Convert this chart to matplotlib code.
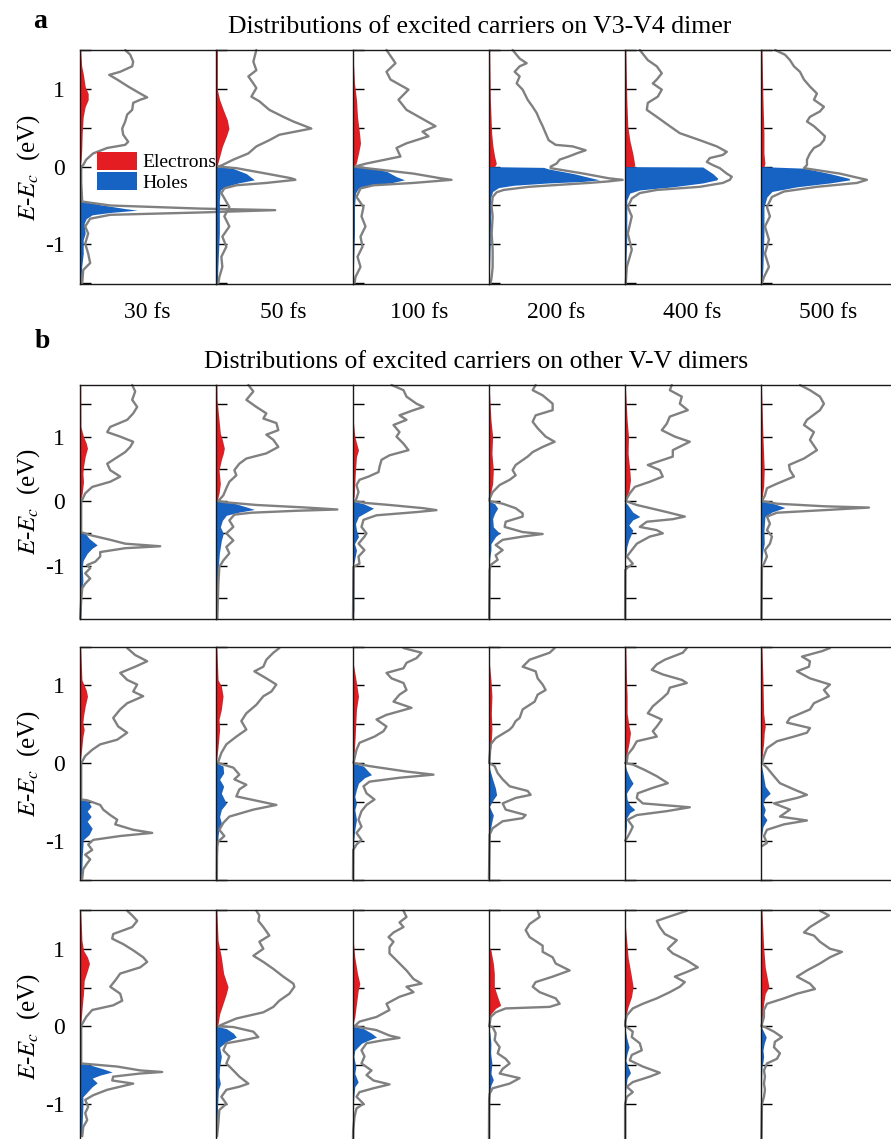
import matplotlib.pyplot as plt
from matplotlib.patches import Patch

plt.rcParams['font.family'] = ['Liberation Serif', 'DejaVu Serif']
plt.rcParams['mathtext.fontset'] = 'stix'

RED = '#e41d22'
BLUE = '#1763c4'
GRAY = '#808080'

times = ["30 fs", "50 fs", "100 fs", "200 fs", "400 fs", "500 fs"]
title_a = "Distributions of excited carriers on V3-V4 dimer"
title_b = "Distributions of excited carriers on other V-V dimers"

# ---------------------------------------------------------------------------
# (energy eV, density); dos = gray curve,
# el = electrons (red fill), ho = holes (blue fill)
# ---------------------------------------------------------------------------

# panel a : V3-V4 dimer
dos_a_30 = [(1.50, 45), (1.44, 50), (1.35, 53), (1.29, 52), (1.22, 40), (1.18, 29), (1.12, 37), (1.03, 48),
            (0.94, 60), (0.89, 67), (0.86, 60), (0.82, 53), (0.73, 52), (0.67, 47), (0.58, 45), (0.49, 42),
            (0.41, 43), (0.32, 48), (0.28, 45), (0.24, 27), (0.17, 13), (0.09, 6), (0.02, 3), (0.0, 1),
            (-0.2, 1), (-0.45, 2), (-0.50, 30), (-0.54, 120), (-0.56, 195), (-0.59, 120), (-0.62, 30),
            (-0.67, 10), (-0.77, 5), (-0.86, 8), (-0.99, 5), (-1.12, 8), (-1.24, 10), (-1.33, 3), (-1.50, 2)]
el_a_30 = [(1.50, 0.5), (1.38, 1), (1.29, 1.5), (1.20, 3), (1.03, 5), (0.94, 8), (0.86, 8), (0.77, 5),
           (0.64, 3), (0.43, 2), (0.21, 1.5), (0.09, 1), (0.0, 0)]
ho_a_30 = [(0.0, 0), (-0.43, 0), (-0.45, 6), (-0.49, 20), (-0.54, 45), (-0.56, 57), (-0.59, 30), (-0.62, 12),
           (-0.67, 6), (-0.73, 4), (-0.86, 5), (-0.94, 3), (-1.12, 3), (-1.29, 1.5), (-1.5, 0.5)]

dos_a_50 = [(1.50, 40), (1.35, 37), (1.24, 40), (1.16, 32), (1.07, 37), (1.01, 40), (0.90, 35), (0.84, 43),
            (0.73, 53), (0.64, 67), (0.58, 77), (0.49, 95), (0.41, 63), (0.34, 53), (0.26, 40), (0.17, 32),
            (0.09, 17), (0.02, 6), (0.0, 2), (-0.02, 20), (-0.09, 50), (-0.15, 75), (-0.17, 79), (-0.21, 50),
            (-0.24, 20), (-0.28, 8), (-0.34, 5), (-0.52, 13), (-0.64, 8), (-0.77, 13), (-0.90, 6), (-1.03, 10),
            (-1.16, 5), (-1.29, 6), (-1.42, 3), (-1.50, 2)]
el_a_50 = [(1.50, 1), (1.18, 1), (0.99, 1), (0.86, 3.3), (0.73, 7), (0.60, 11), (0.49, 12.6), (0.39, 10),
           (0.26, 6), (0.13, 3.3), (0.0, 0.5)]
ho_a_50 = [(0.0, 0), (-0.02, 16), (-0.09, 30), (-0.17, 38), (-0.21, 22), (-0.26, 9), (-0.30, 4), (-0.43, 3),
           (-0.86, 3), (-1.29, 1.5), (-1.5, 1)]

dos_a_100 = [(1.50, 34), (1.33, 43), (1.22, 34), (1.12, 38), (0.99, 56), (0.86, 46), (0.73, 54), (0.52, 83),
             (0.45, 70), (0.39, 76), (0.30, 54), (0.24, 44), (0.13, 48), (0.04, 14), (0.0, 2), (-0.02, 14),
             (-0.09, 61), (-0.15, 88), (-0.17, 99), (-0.21, 61), (-0.24, 21), (-0.28, 8), (-0.39, 4),
             (-0.52, 11), (-0.64, 9), (-0.77, 13), (-0.90, 8), (-1.03, 10), (-1.16, 5), (-1.29, 8),
             (-1.42, 3), (-1.50, 2)]
el_a_100 = [(1.50, 0.3), (1.07, 2), (0.86, 4), (0.64, 5), (0.43, 7), (0.30, 8), (0.17, 6), (0.04, 3.7), (0.0, 1)]
ho_a_100 = [(0.0, 0), (-0.02, 18), (-0.06, 34), (-0.13, 44), (-0.17, 52), (-0.21, 38), (-0.24, 18), (-0.28, 6),
            (-0.34, 3), (-0.52, 2), (-0.86, 2), (-1.29, 1), (-1.5, 0.5)]

dos_a_200 = [(1.50, 24), (1.39, 31), (1.33, 38), (1.29, 31), (1.22, 26), (1.16, 31), (1.07, 28), (0.99, 34),
             (0.86, 39), (0.77, 44), (0.69, 48), (0.60, 51), (0.52, 54), (0.43, 57), (0.34, 60), (0.28, 67),
             (0.26, 84), (0.21, 97), (0.17, 88), (0.13, 80), (0.09, 71), (0.04, 68), (0.0, 62), (-0.02, 62),
             (-0.09, 95), (-0.15, 120), (-0.17, 134), (-0.19, 120), (-0.21, 100), (-0.26, 40), (-0.30, 15),
             (-0.33, 8), (-0.39, 4), (-0.52, 3), (-0.64, 4), (-0.86, 3), (-1.07, 4), (-1.29, 4), (-1.42, 3),
             (-1.50, 2)]
el_a_200 = [(1.50, 1), (0.86, 1.7), (0.43, 3), (0.26, 4.3), (0.13, 6), (0.04, 7.7), (0.0, 6)]
ho_a_200 = [(0.0, 0), (-0.01, 55), (-0.03, 60), (-0.09, 85), (-0.15, 104), (-0.17, 111), (-0.19, 95),
            (-0.21, 60), (-0.24, 25), (-0.27, 10), (-0.32, 4), (-0.4, 2), (-0.6, 2), (-1.0, 1.5), (-1.5, 0.5)]

dos_a_400 = [(1.50, 15), (1.37, 23), (1.29, 32), (1.20, 37), (1.12, 32), (1.07, 28), (0.99, 37), (0.90, 33),
             (0.82, 23), (0.73, 22), (0.64, 32), (0.52, 45), (0.43, 55), (0.34, 75), (0.26, 92), (0.19, 102),
             (0.15, 98), (0.11, 85), (0.06, 82), (0.02, 88), (-0.02, 95), (-0.09, 102), (-0.13, 107),
             (-0.17, 105), (-0.21, 98), (-0.26, 75), (-0.30, 32), (-0.34, 15), (-0.41, 7), (-0.52, 3),
             (-0.64, 7), (-0.86, 3), (-1.07, 7), (-1.29, 2), (-1.50, 1)]
el_a_400 = [(1.50, 1), (0.86, 2), (0.52, 3), (0.34, 5), (0.17, 8), (0.02, 10), (0.0, 9)]
ho_a_400 = [(0.0, 0), (-0.005, 78), (-0.09, 88), (-0.15, 93), (-0.17, 92), (-0.21, 78), (-0.26, 48),
            (-0.30, 15), (-0.34, 5), (-0.43, 2), (-0.9, 2), (-1.5, 0.5)]

dos_a_500 = [(1.50, 14), (1.44, 24), (1.37, 29), (1.29, 33), (1.22, 39), (1.12, 43), (1.03, 49), (0.94, 56),
             (0.86, 53), (0.77, 63), (0.71, 59), (0.64, 49), (0.58, 46), (0.52, 53), (0.45, 59), (0.39, 64),
             (0.34, 63), (0.28, 59), (0.24, 53), (0.17, 49), (0.09, 46), (0.02, 46), (-0.02, 43),
             (-0.09, 79), (-0.15, 99), (-0.17, 106), (-0.21, 96), (-0.26, 56), (-0.32, 23), (-0.39, 11),
             (-0.52, 6), (-0.64, 9), (-0.77, 4), (-0.94, 8), (-1.12, 4), (-1.29, 8), (-1.42, 3), (-1.50, 1)]
el_a_500 = [(1.50, 1), (0.86, 2), (0.43, 3), (0.17, 3), (0.04, 4), (0.0, 3)]
ho_a_500 = [(0.0, 0), (-0.02, 43), (-0.09, 69), (-0.15, 88), (-0.17, 89), (-0.21, 69), (-0.26, 36),
            (-0.32, 11), (-0.39, 6), (-0.52, 3), (-0.86, 3), (-1.29, 2), (-1.50, 1)]

# panel b, first row
dos_b1_30 = [(1.80, 52), (1.70, 55), (1.57, 52), (1.46, 57), (1.36, 53), (1.26, 47), (1.15, 30), (1.07, 27),
             (1.00, 40), (0.92, 53), (0.84, 50), (0.76, 45), (0.69, 38), (0.58, 27), (0.48, 30), (0.38, 40),
             (0.30, 30), (0.22, 12), (0.12, 5), (0.02, 2), (0.0, 1), (-0.48, 1), (-0.52, 8), (-0.60, 30),
             (-0.66, 45), (-0.70, 80), (-0.73, 45), (-0.79, 20), (-0.86, 20), (-0.94, 15), (-0.99, 7),
             (-1.04, 10), (-1.12, 5), (-1.20, 10), (-1.28, 5), (-1.35, 2), (-1.53, 1), (-1.82, 0)]
el_b1_30 = [(1.80, 0.5), (1.15, 0.7), (1.00, 3.3), (0.90, 6), (0.82, 7.3), (0.69, 5), (0.53, 3.3), (0.43, 2.7),
            (0.30, 3.3), (0.12, 2), (0.0, 0)]
ho_b1_30 = [(0.0, 0), (-0.48, 0), (-0.50, 5), (-0.58, 9), (-0.68, 17), (-0.73, 12), (-0.81, 7), (-0.92, 3),
            (-1.02, 2), (-1.23, 2.7), (-1.33, 2), (-1.54, 1), (-1.82, 0.5)]

dos_b1_50 = [(1.80, 32), (1.70, 37), (1.57, 30), (1.46, 40), (1.36, 50), (1.28, 47), (1.21, 60), (1.10, 62),
             (1.03, 50), (0.95, 57), (0.84, 62), (0.74, 50), (0.66, 30), (0.58, 23), (0.48, 18), (0.40, 20),
             (0.30, 13), (0.20, 10), (0.09, 7), (0.02, 3), (0.0, 2), (-0.02, 10), (-0.06, 40), (-0.10, 90),
             (-0.13, 121), (-0.15, 80), (-0.18, 35), (-0.21, 18), (-0.30, 13), (-0.40, 17), (-0.50, 10),
             (-0.61, 17), (-0.71, 10), (-0.81, 13), (-0.92, 7), (-1.02, 3), (-1.28, 2), (-1.82, 1)]
el_b1_50 = [(1.80, 0.5), (1.57, 0.7), (1.05, 4), (0.95, 6), (0.82, 8), (0.74, 7), (0.64, 5), (0.48, 2.7),
            (0.27, 4), (0.12, 2.7), (0.0, 0.7)]
ho_b1_50 = [(0.0, 0), (-0.03, 17), (-0.09, 30), (-0.13, 38), (-0.17, 23), (-0.22, 10), (-0.30, 6), (-0.40, 4),
            (-0.50, 7), (-0.61, 5), (-0.81, 3), (-1.02, 2), (-1.54, 1), (-1.82, 0.5)]

dos_b1_100 = [(1.80, 39), (1.72, 51), (1.62, 54), (1.51, 64), (1.46, 71), (1.41, 61), (1.33, 47), (1.26, 54),
              (1.18, 41), (1.07, 47), (1.00, 44), (0.89, 51), (0.79, 56), (0.71, 37), (0.64, 29), (0.53, 27),
              (0.45, 26), (0.38, 16), (0.33, 7), (0.25, 4), (0.14, 6), (0.04, 4), (0.0, 2), (-0.03, 14),
              (-0.06, 37), (-0.11, 71), (-0.14, 84), (-0.17, 64), (-0.22, 24), (-0.29, 11), (-0.40, 9),
              (-0.50, 14), (-0.55, 12), (-0.66, 6), (-0.76, 12), (-0.86, 6), (-0.97, 7), (-1.02, 1),
              (-1.82, 0.5)]
el_b1_100 = [(1.80, 0.3), (1.26, 0.7), (1.00, 2.3), (0.79, 6), (0.69, 4), (0.48, 3), (0.27, 2.3), (0.07, 1.7),
             (0.0, 0)]
ho_b1_100 = [(0.0, 0), (-0.04, 11), (-0.11, 21), (-0.17, 14), (-0.24, 6), (-0.35, 3), (-0.45, 4), (-0.55, 6),
             (-0.66, 2), (-0.76, 4), (-0.97, 1.3), (-1.69, 1.3), (-1.82, 0.7)]

dos_b1_200 = [(1.80, 47), (1.72, 44), (1.64, 54), (1.51, 64), (1.41, 64), (1.33, 47), (1.23, 44), (1.13, 49),
              (1.00, 57), (0.92, 66), (0.84, 54), (0.76, 44), (0.69, 39), (0.56, 27), (0.48, 24), (0.40, 27),
              (0.33, 21), (0.25, 11), (0.14, 4), (0.04, 1), (0.0, 1), (-0.04, 14), (-0.11, 27), (-0.19, 34),
              (-0.24, 34), (-0.32, 17), (-0.40, 16), (-0.48, 34), (-0.51, 54), (-0.55, 34), (-0.60, 14),
              (-0.68, 7), (-0.76, 14), (-0.84, 7), (-0.91, 9), (-0.99, 2), (-1.07, 1), (-1.82, 0.5)]
el_b1_200 = [(1.80, 0.5), (1.72, 0.7), (1.26, 2.3), (1.00, 4), (0.74, 3.3), (0.48, 4.7), (0.27, 4), (0.07, 1.3),
             (0.0, 0)]
ho_b1_200 = [(0.0, 0), (-0.04, 6), (-0.11, 9), (-0.19, 6), (-0.27, 4), (-0.40, 4.7), (-0.50, 11), (-0.55, 7),
             (-0.66, 2.3), (-0.76, 2.3), (-0.86, 1.3), (-0.97, 0.7), (-1.82, 0.3)]

dos_b1_400 = [(1.80, 47), (1.72, 45), (1.62, 57), (1.51, 55), (1.41, 63), (1.31, 45), (1.20, 42), (1.10, 37),
              (1.00, 50), (0.92, 65), (0.79, 48), (0.69, 48), (0.56, 23), (0.48, 35), (0.38, 38), (0.30, 25),
              (0.22, 10), (0.12, 5), (0.04, 2), (0.0, 1), (-0.06, 12), (-0.17, 42), (-0.24, 60), (-0.28, 48),
              (-0.32, 22), (-0.40, 15), (-0.45, 32), (-0.50, 38), (-0.55, 25), (-0.66, 12), (-0.76, 7),
              (-0.86, 2), (-0.97, 8), (-1.04, 2), (-1.07, 0.5), (-1.82, 0.3)]
el_b1_400 = [(1.80, 0.5), (1.26, 2.3), (1.00, 3.7), (0.74, 3.3), (0.48, 5), (0.33, 5.7), (0.17, 4.3),
             (0.04, 1.7), (0.0, 0)]
ho_b1_400 = [(0.0, 0), (-0.06, 3), (-0.17, 8), (-0.24, 15), (-0.29, 8), (-0.37, 4), (-0.45, 8), (-0.53, 6),
             (-0.60, 4), (-0.71, 2), (-0.86, 1), (-0.97, 0.3), (-1.82, 0.2)]

dos_b1_500 = [(1.80, 39), (1.72, 49), (1.62, 59), (1.51, 63), (1.41, 59), (1.26, 46), (1.18, 43), (1.07, 53),
              (0.95, 49), (0.79, 56), (0.66, 43), (0.56, 28), (0.48, 29), (0.38, 33), (0.27, 16), (0.20, 6),
              (0.09, 4), (0.0, 1), (-0.04, 16), (-0.08, 63), (-0.10, 108), (-0.14, 63), (-0.18, 16),
              (-0.24, 6), (-0.35, 9), (-0.45, 6), (-0.55, 11), (-0.66, 9), (-0.76, 4), (-0.86, 6), (-0.97, 3),
              (-1.02, 1), (-1.82, 0.5)]
el_b1_500 = [(1.80, 0.5), (1.00, 2), (0.48, 3.3), (0.22, 2.7), (0.07, 1.3), (0.0, 0)]
ho_b1_500 = [(0.0, 0), (-0.04, 13), (-0.10, 24), (-0.17, 11), (-0.24, 4), (-0.45, 3), (-0.66, 3.3), (-0.76, 2),
             (-0.97, 0.7), (-1.82, 0.3)]

# panel b, second row
dos_b2_30 = [(1.48, 47), (1.39, 55), (1.31, 67), (1.24, 55), (1.16, 40), (1.07, 47), (1.01, 57), (0.92, 53),
             (0.86, 63), (0.77, 47), (0.69, 40), (0.58, 33), (0.47, 38), (0.39, 47), (0.30, 37), (0.24, 20),
             (0.17, 12), (0.09, 5), (0.02, 2), (0.0, 1), (-0.47, 1), (-0.48, 7), (-0.54, 20), (-0.60, 23),
             (-0.67, 30), (-0.73, 37), (-0.79, 35), (-0.86, 53), (-0.90, 72), (-0.94, 40), (-0.99, 13),
             (-1.05, 8), (-1.12, 12), (-1.18, 5), (-1.24, 10), (-1.31, 6), (-1.37, 3), (-1.49, 2)]
el_b2_30 = [(1.48, 0.5), (1.07, 1.7), (0.94, 6), (0.86, 7.3), (0.73, 5), (0.60, 3.3), (0.52, 2.7), (0.43, 4),
            (0.34, 2.7), (0.21, 1.7), (0.0, 0)]
ho_b2_30 = [(0.0, 0), (-0.47, 0), (-0.49, 8), (-0.56, 11), (-0.62, 7), (-0.69, 11), (-0.75, 7), (-0.84, 12),
            (-0.92, 9), (-0.99, 3), (-1.07, 2.7), (-1.20, 2), (-1.37, 1.7), (-1.49, 0.7)]

dos_b2_50 = [(1.48, 63), (1.42, 57), (1.33, 50), (1.24, 47), (1.18, 38), (1.09, 50), (1.01, 60), (0.92, 55),
             (0.86, 47), (0.75, 40), (0.64, 30), (0.54, 25), (0.43, 30), (0.34, 20), (0.24, 10), (0.13, 5),
             (0.02, 2), (0.0, 2), (-0.06, 17), (-0.15, 23), (-0.21, 18), (-0.28, 30), (-0.34, 23), (-0.43, 20),
             (-0.54, 60), (-0.60, 37), (-0.69, 13), (-0.77, 7), (-0.86, 3), (-0.94, 8), (-1.01, 2),
             (-1.07, 0.7), (-1.49, 0.5)]
el_b2_50 = [(1.48, 0.5), (1.07, 1.7), (0.99, 5), (0.86, 6.7), (0.69, 5), (0.56, 2.7), (0.43, 3.3), (0.21, 1.7),
            (0.0, 0)]
ho_b2_50 = [(0.0, 0), (-0.04, 6.7), (-0.13, 7.3), (-0.21, 3.3), (-0.30, 7.3), (-0.39, 5), (-0.52, 10),
            (-0.60, 5), (-0.69, 3.3), (-0.77, 5), (-0.86, 2.7), (-0.94, 1.7), (-1.49, 0.5)]

dos_b2_100 = [(1.48, 51), (1.42, 69), (1.35, 64), (1.29, 54), (1.22, 51), (1.16, 34), (1.09, 39), (1.03, 51),
              (0.94, 54), (0.88, 47), (0.79, 41), (0.71, 59), (0.62, 34), (0.56, 24), (0.47, 34), (0.41, 31),
              (0.34, 22), (0.26, 7), (0.17, 4), (0.06, 2), (0.0, 1), (-0.04, 17), (-0.11, 54), (-0.15, 81),
              (-0.19, 47), (-0.24, 17), (-0.30, 11), (-0.39, 14), (-0.47, 22), (-0.54, 14), (-0.62, 9),
              (-0.73, 6), (-0.82, 9), (-0.90, 4), (-0.99, 9), (-1.05, 4), (-1.12, 0.7), (-1.49, 0.5)]
el_b2_100 = [(1.48, 0.5), (1.29, 0.7), (1.03, 4), (0.86, 6), (0.69, 4), (0.52, 3.3), (0.34, 2.7), (0.13, 1.7),
             (0.0, 0)]
ho_b2_100 = [(0.0, 0), (-0.04, 11), (-0.11, 16), (-0.15, 19), (-0.19, 12), (-0.26, 6), (-0.34, 4),
             (-0.43, 2.3), (-0.52, 4), (-0.60, 2.3), (-0.73, 4), (-0.86, 2.3), (-0.99, 1.3), (-1.49, 0.5)]

dos_b2_200 = [(1.48, 66), (1.42, 61), (1.33, 41), (1.24, 34), (1.18, 47), (1.09, 49), (1.01, 54), (0.94, 57),
              (0.88, 49), (0.79, 46), (0.69, 34), (0.58, 31), (0.54, 27), (0.47, 24), (0.43, 21), (0.32, 7),
              (0.24, 2), (0.09, 1), (0.0, 0.5), (-0.04, 6), (-0.13, 9), (-0.21, 14), (-0.30, 21), (-0.36, 39),
              (-0.41, 42), (-0.45, 27), (-0.52, 14), (-0.60, 17), (-0.67, 37), (-0.71, 34), (-0.75, 14),
              (-0.84, 4), (-0.92, 1), (-1.49, 0.3)]
el_b2_200 = [(1.48, 0.3), (1.29, 0.7), (1.07, 2.3), (0.86, 3.3), (0.64, 2.7), (0.43, 3.3), (0.21, 2.3),
             (0.0, 0)]
ho_b2_200 = [(0.0, 0), (-0.09, 1.3), (-0.21, 4), (-0.32, 6.7), (-0.41, 8), (-0.47, 4.7), (-0.56, 0.7),
             (-0.67, 4.7), (-0.75, 3.3), (-0.86, 1.7), (-0.99, 0.7), (-1.49, 0.3)]

dos_b2_400 = [(1.48, 62), (1.42, 58), (1.33, 40), (1.27, 32), (1.20, 27), (1.14, 38), (1.07, 57), (1.03, 62),
              (0.97, 45), (0.90, 43), (0.84, 38), (0.73, 28), (0.64, 23), (0.56, 37), (0.47, 32), (0.41, 28),
              (0.34, 32), (0.28, 12), (0.19, 8), (0.11, 3), (0.02, 2), (0.0, 0.3), (-0.02, 8), (-0.09, 20),
              (-0.17, 32), (-0.26, 43), (-0.32, 28), (-0.39, 13), (-0.45, 12), (-0.52, 18), (-0.57, 65),
              (-0.62, 42), (-0.67, 12), (-0.73, 3), (-0.82, 8), (-0.90, 5), (-0.97, 2), (-1.00, 0.3)]
el_b2_400 = [(1.48, 1), (1.07, 1.7), (0.86, 2.3), (0.64, 2.3), (0.47, 4.3), (0.39, 5.7), (0.26, 4.3),
             (0.13, 2.3), (0.0, 0.7)]
ho_b2_400 = [(0.0, 0), (-0.09, 1.7), (-0.19, 5), (-0.26, 8.3), (-0.32, 5), (-0.39, 1.7), (-0.47, 2.3),
             (-0.54, 5), (-0.60, 10), (-0.64, 5), (-0.71, 1.7), (-0.82, 1.7), (-0.90, 1), (-1.00, 0.3)]

dos_b2_500 = [(1.48, 69), (1.44, 61), (1.37, 41), (1.31, 49), (1.24, 48), (1.18, 36), (1.09, 49), (1.01, 69),
              (0.94, 63), (0.86, 68), (0.77, 53), (0.69, 49), (0.58, 29), (0.52, 26), (0.45, 49), (0.39, 46),
              (0.34, 33), (0.28, 16), (0.19, 6), (0.09, 3), (0.0, 1), (-0.06, 6), (-0.17, 13), (-0.26, 19),
              (-0.34, 33), (-0.41, 46), (-0.45, 36), (-0.52, 13), (-0.60, 29), (-0.69, 19), (-0.74, 46),
              (-0.79, 23), (-0.86, 6), (-0.94, 3), (-1.03, 6), (-1.07, 1)]
el_b2_500 = [(1.48, 1), (1.07, 2), (0.64, 2.7), (0.47, 4.3), (0.39, 3.3), (0.26, 2.7), (0.09, 1.3), (0.0, 0)]
ho_b2_500 = [(0.0, 0), (-0.13, 2), (-0.30, 4.3), (-0.39, 9.3), (-0.45, 4.3), (-0.52, 2), (-0.60, 4.3),
             (-0.67, 2.7), (-0.73, 6), (-0.82, 2), (-0.94, 0.7), (-1.10, 0.3)]

# panel b, third row
dos_b3_30 = [(1.49, 47), (1.43, 52), (1.36, 57), (1.28, 52), (1.19, 33), (1.13, 32), (1.06, 43), (0.98, 53),
             (0.89, 63), (0.83, 67), (0.76, 60), (0.68, 40), (0.59, 35), (0.51, 30), (0.42, 40), (0.33, 42),
             (0.27, 33), (0.21, 12), (0.12, 6), (0.03, 2), (0.0, 1), (-0.48, 1), (-0.49, 10), (-0.52, 37),
             (-0.57, 60), (-0.59, 82), (-0.61, 60), (-0.65, 33), (-0.70, 32), (-0.74, 53), (-0.78, 40),
             (-0.82, 27), (-0.89, 13), (-0.95, 5), (-1.04, 8), (-1.12, 5), (-1.21, 7), (-1.30, 3), (-1.42, 2)]
el_b3_30 = [(1.49, 0.5), (1.11, 1.7), (0.98, 3.3), (0.89, 7.3), (0.81, 9.3), (0.72, 7.3), (0.59, 4),
            (0.42, 3.3), (0.25, 2), (0.08, 1), (0.0, 0)]
ho_b3_30 = [(0.0, 0), (-0.48, 0), (-0.50, 10), (-0.55, 23), (-0.59, 32), (-0.63, 20), (-0.67, 12), (-0.73, 17),
            (-0.78, 12), (-0.85, 7), (-0.91, 2.7), (-1.04, 2.7), (-1.25, 2), (-1.42, 1.3)]

dos_b3_50 = [(1.49, 40), (1.43, 43), (1.36, 42), (1.28, 47), (1.17, 53), (1.09, 43), (1.00, 47), (0.91, 37),
             (0.83, 47), (0.74, 57), (0.64, 67), (0.55, 77), (0.51, 78), (0.42, 73), (0.33, 63), (0.25, 57),
             (0.18, 47), (0.10, 20), (0.03, 7), (0.0, 2), (-0.01, 17), (-0.07, 37), (-0.14, 42), (-0.18, 27),
             (-0.22, 10), (-0.31, 7), (-0.39, 13), (-0.48, 10), (-0.57, 17), (-0.65, 23), (-0.74, 32),
             (-0.78, 23), (-0.82, 10), (-0.91, 5), (-1.00, 10), (-1.08, 3), (-1.25, 2), (-1.42, 0.7)]
el_b3_50 = [(1.49, 0.5), (1.11, 1.7), (0.89, 5), (0.68, 7.3), (0.51, 11.7), (0.42, 10), (0.29, 6.7),
            (0.16, 3.3), (0.03, 1.7), (0.0, 0)]
ho_b3_50 = [(0.0, 0), (-0.03, 10), (-0.09, 17), (-0.14, 20), (-0.20, 10), (-0.27, 3.3), (-0.39, 5),
            (-0.52, 3.3), (-0.65, 2.7), (-0.74, 4), (-0.82, 2), (-1.00, 1.3), (-1.25, 0.7), (-1.42, 0.5)]

dos_b3_100 = [(1.49, 51), (1.41, 54), (1.34, 47), (1.28, 51), (1.21, 41), (1.15, 36), (1.09, 41), (1.02, 37),
              (0.94, 37), (0.85, 44), (0.72, 54), (0.61, 61), (0.55, 69), (0.51, 54), (0.44, 61), (0.38, 47),
              (0.29, 34), (0.21, 37), (0.12, 24), (0.06, 7), (0.0, 2), (-0.05, 24), (-0.12, 37), (-0.15, 47),
              (-0.18, 31), (-0.22, 14), (-0.31, 9), (-0.39, 12), (-0.48, 9), (-0.57, 19), (-0.63, 14),
              (-0.70, 21), (-0.75, 37), (-0.80, 21), (-0.85, 7), (-0.91, 4), (-1.00, 11), (-1.06, 4),
              (-1.17, 2), (-1.34, 0.7), (-1.45, 0.5)]
el_b3_100 = [(1.49, 0.3), (1.11, 0.7), (0.89, 2.3), (0.68, 5), (0.55, 7.3), (0.46, 5.7), (0.29, 4), (0.12, 2.3),
             (0.0, 0)]
ho_b3_100 = [(0.0, 0), (-0.03, 11), (-0.09, 19), (-0.14, 24), (-0.18, 16), (-0.22, 9), (-0.31, 2.3),
             (-0.39, 1.3), (-0.52, 3.3), (-0.61, 2.3), (-0.72, 5.7), (-0.78, 2.3), (-0.91, 1.3), (-1.04, 0.7),
             (-1.45, 0.3)]

dos_b3_200 = [(1.49, 49), (1.41, 51), (1.32, 41), (1.24, 37), (1.15, 41), (1.04, 54), (0.96, 54), (0.89, 64),
              (0.81, 67), (0.72, 81), (0.64, 64), (0.57, 47), (0.51, 44), (0.44, 51), (0.36, 67), (0.29, 71),
              (0.25, 61), (0.23, 17), (0.18, 7), (0.12, 2), (0.03, 1), (0.0, 0.5), (-0.01, 4), (-0.09, 7),
              (-0.18, 6), (-0.27, 11), (-0.35, 9), (-0.42, 17), (-0.48, 21), (-0.55, 14), (-0.61, 11),
              (-0.67, 31), (-0.74, 21), (-0.80, 4), (-0.87, 1), (-0.95, 0.5), (-1.45, 0.3)]
el_b3_200 = [(1.49, 0.5), (1.02, 0.7), (0.98, 2.3), (0.81, 4.7), (0.68, 5.7), (0.51, 5.7), (0.38, 9),
             (0.27, 12), (0.23, 7), (0.16, 2.3), (0.03, 0.7), (0.0, 0)]
ho_b3_200 = [(0.0, 0), (-0.09, 1.3), (-0.22, 2.3), (-0.35, 2), (-0.48, 3.3), (-0.61, 2.3), (-0.69, 4.7),
             (-0.76, 2.3), (-0.87, 0.7), (-1.45, 0.3)]

dos_b3_400 = [(1.49, 62), (1.43, 48), (1.36, 32), (1.28, 35), (1.19, 40), (1.11, 52), (1.00, 43), (0.94, 48),
              (0.85, 62), (0.76, 73), (0.70, 62), (0.64, 50), (0.57, 60), (0.51, 55), (0.44, 45), (0.36, 32),
              (0.29, 18), (0.23, 8), (0.14, 2), (0.06, 0.5), (0.0, 0.3), (-0.01, 2), (-0.07, 8), (-0.14, 7),
              (-0.22, 15), (-0.31, 17), (-0.37, 7), (-0.44, 5), (-0.52, 18), (-0.60, 35), (-0.65, 25),
              (-0.72, 8), (-0.78, 2), (-0.85, 8), (-0.91, 2), (-1.00, 0.3), (-1.45, 0.3)]
el_b3_400 = [(1.49, 0.5), (1.28, 0.7), (0.89, 3.3), (0.64, 6.7), (0.51, 8.3), (0.38, 6.7), (0.25, 3.3),
             (0.12, 0.7), (0.0, 0)]
ho_b3_400 = [(0.0, 0), (-0.14, 1.7), (-0.27, 4.3), (-0.35, 2.3), (-0.44, 1), (-0.52, 3.3), (-0.60, 5.7),
             (-0.67, 2.3), (-0.82, 1), (-0.95, 0.3), (-1.45, 0.2)]

dos_b3_500 = [(1.49, 59), (1.43, 68), (1.36, 59), (1.28, 49), (1.21, 43), (1.17, 53), (1.09, 59), (1.00, 69),
              (0.96, 81), (0.89, 69), (0.81, 59), (0.72, 46), (0.64, 36), (0.55, 49), (0.48, 54), (0.42, 36),
              (0.36, 23), (0.29, 6), (0.21, 3), (0.12, 3), (0.03, 1), (0.0, 0.5), (-0.01, 4), (-0.07, 13),
              (-0.14, 21), (-0.20, 14), (-0.27, 13), (-0.35, 19), (-0.42, 16), (-0.48, 6), (-0.57, 3),
              (-0.65, 4), (-0.74, 3), (-0.82, 4), (-0.91, 3), (-1.00, 1), (-1.45, 0.5)]
el_b3_500 = [(1.49, 1), (1.02, 2.7), (0.76, 4.3), (0.51, 8), (0.42, 4.3), (0.29, 2.7), (0.12, 1.3),
             (0.01, 0.7), (0.0, 0)]
ho_b3_500 = [(0.0, 0), (-0.07, 2.7), (-0.14, 5.3), (-0.22, 3.3), (-0.31, 2), (-0.39, 2.7), (-0.46, 2),
             (-0.52, 1), (-0.65, 0.7), (-1.45, 0.3)]

rows = [
    [(dos_a_30, el_a_30, ho_a_30), (dos_a_50, el_a_50, ho_a_50), (dos_a_100, el_a_100, ho_a_100),
     (dos_a_200, el_a_200, ho_a_200), (dos_a_400, el_a_400, ho_a_400), (dos_a_500, el_a_500, ho_a_500)],
    [(dos_b1_30, el_b1_30, ho_b1_30), (dos_b1_50, el_b1_50, ho_b1_50), (dos_b1_100, el_b1_100, ho_b1_100),
     (dos_b1_200, el_b1_200, ho_b1_200), (dos_b1_400, el_b1_400, ho_b1_400), (dos_b1_500, el_b1_500, ho_b1_500)],
    [(dos_b2_30, el_b2_30, ho_b2_30), (dos_b2_50, el_b2_50, ho_b2_50), (dos_b2_100, el_b2_100, ho_b2_100),
     (dos_b2_200, el_b2_200, ho_b2_200), (dos_b2_400, el_b2_400, ho_b2_400), (dos_b2_500, el_b2_500, ho_b2_500)],
    [(dos_b3_30, el_b3_30, ho_b3_30), (dos_b3_50, el_b3_50, ho_b3_50), (dos_b3_100, el_b3_100, ho_b3_100),
     (dos_b3_200, el_b3_200, ho_b3_200), (dos_b3_400, el_b3_400, ho_b3_400), (dos_b3_500, el_b3_500, ho_b3_500)],
]
row_ylims = [(-1.51, 1.50), (-1.82, 1.80), (-1.50, 1.50), (-1.50, 1.50)]

# ---------------------------------------------------------------------------
# layout (pixels of the 891 x 1139 canvas)
# ---------------------------------------------------------------------------
W, H = 891, 1139
fig = plt.figure(figsize=(W / 100, H / 100), dpi=100)

row_box = [(50, 284), (385, 618.5), (646.5, 879.5), (910, 1142.5)]
col_left = 80.2
col_w = 136.15

ticks = [-1.5, -1.0, -0.5, 0.0, 0.5, 1.0, 1.5]
tick_labels = ['', '-1', '', '0', '', '1', '']


def unzip(pairs):
    return [p[0] for p in pairs], [p[1] for p in pairs]


first_ax = None
for r, panels in enumerate(rows):
    top, bot = row_box[r]
    for c, (dos, el, ho) in enumerate(panels):
        x0 = col_left + c * col_w
        ax = fig.add_axes([x0 / W, 1 - bot / H, col_w / W, (bot - top) / H])
        ax.set_facecolor('none')
        ax.set_xlim(0, col_w)
        ax.set_ylim(*row_ylims[r])

        e, v = unzip(el)
        ax.fill_betweenx(e, 0, v, color=RED, lw=0, zorder=2)
        e, v = unzip(ho)
        ax.fill_betweenx(e, 0, v, color=BLUE, lw=0, zorder=2)
        e, v = unzip(dos)
        ax.plot(v, e, color=GRAY, lw=1.7, clip_on=False, zorder=3,
                solid_joinstyle='round', solid_capstyle='round')

        for s in ['left', 'top', 'bottom']:
            ax.spines[s].set_linewidth(1.0)
            ax.spines[s].set_color('#1a1a1a')
            ax.spines[s].set_zorder(4)
        ax.spines['right'].set_visible(False)

        ax.set_xticks([])
        ax.set_yticks(ticks)
        ax.set_yticklabels(tick_labels if c == 0 else [''] * len(ticks))
        ax.tick_params(axis='y', direction='in', length=8, width=1.0, pad=11, labelsize=17)

        if c == 0:
            ax.set_ylabel(r'$E$-$E_c$  (eV)', fontsize=18, labelpad=2)
        if r == 0 and c == 0:
            first_ax = ax

# legend in the first panel
handles = [Patch(facecolor=RED, edgecolor='none', label='Electrons'),
           Patch(facecolor=BLUE, edgecolor='none', label='Holes')]
first_ax.legend(handles=handles, loc='upper left', bbox_to_anchor=(0.12, 0.565), frameon=False,
                fontsize=14, handlelength=2.1, handleheight=1.05, handletextpad=0.25,
                labelspacing=0.05, borderpad=0, borderaxespad=0)

# titles and labels
fig.text(40 / W, 1 - 22 / H, 'a', fontsize=20, fontweight='bold', ha='center', va='center')
fig.text(42 / W, 1 - 341 / H, 'b', fontsize=20, fontweight='bold', ha='center', va='center')
fig.text(480 / W, 1 - 27 / H, title_a, fontsize=18.5, ha='center', va='center')
fig.text(476 / W, 1 - 362 / H, title_b, fontsize=18.5, ha='center', va='center')
for c, t in enumerate(times):
    fig.text((col_left + (c + 0.5) * col_w - 1) / W, 1 - 312 / H, t, fontsize=17, ha='center', va='center')

fig.savefig('out.png', dpi=100)
